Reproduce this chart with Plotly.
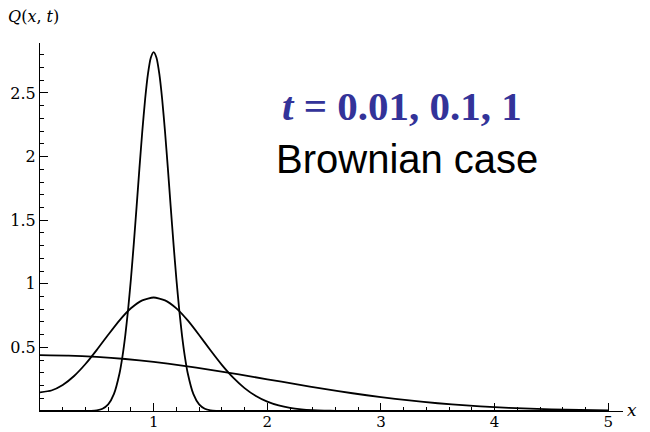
import plotly.graph_objects as go

# t = 0.01 curve
x_t001 = [0, 0.2, 0.3, 0.35, 0.4, 0.45, 0.5, 0.55, 0.6, 0.65, 0.7, 0.725, 0.75, 0.775, 0.8,
          0.825, 0.85, 0.875, 0.9, 0.925, 0.95, 0.975, 1.0, 1.025, 1.05, 1.075, 1.1, 1.125,
          1.15, 1.175, 1.2, 1.225, 1.25, 1.275, 1.3, 1.35, 1.4, 1.45, 1.5, 1.55, 1.6, 1.65,
          1.7, 1.8, 2.0, 3.0, 4.0, 5.0]
q_t001 = [0, 0, 0, 0.00007, 0.00035, 0.0015, 0.0054, 0.0179, 0.0517, 0.132, 0.297, 0.426,
          0.591, 0.796, 1.038, 1.312, 1.607, 1.909, 2.197, 2.451, 2.650, 2.777, 2.821, 2.777,
          2.650, 2.451, 2.197, 1.909, 1.607, 1.312, 1.038, 0.796, 0.591, 0.426, 0.297, 0.132,
          0.0517, 0.0179, 0.0054, 0.0015, 0.00035, 0.00007, 0, 0, 0, 0, 0, 0]

# t = 0.1 curve
x_t01 = [0, 0.1, 0.2, 0.3, 0.4, 0.5, 0.6, 0.7, 0.8, 0.9, 1.0, 1.1, 1.2, 1.3, 1.4, 1.5, 1.6,
         1.7, 1.8, 1.9, 2.0, 2.1, 2.2, 2.3, 2.4, 2.5, 2.6, 2.8, 3.0, 4.0, 5.0]
q_t01 = [0.1465, 0.1611, 0.2045, 0.2751, 0.3693, 0.4808, 0.5995, 0.7130, 0.8075, 0.8702,
         0.8921, 0.8701, 0.8072, 0.7123, 0.5980, 0.4775, 0.3627, 0.2621, 0.1801, 0.1177,
         0.0732, 0.0433, 0.0244, 0.0131, 0.0066, 0.0032, 0.0015, 0.0003, 0, 0, 0]

# t = 1 curve
x_t1 = [0, 0.25, 0.5, 0.75, 1.0, 1.25, 1.5, 1.75, 2.0, 2.25, 2.5, 2.75, 3.0, 3.25, 3.5,
        3.75, 4.0, 4.25, 4.5, 4.75, 5.0]
q_t1 = [0.4394, 0.4360, 0.4257, 0.4089, 0.3859, 0.3573, 0.3241, 0.2877, 0.2494, 0.2110,
        0.1739, 0.1396, 0.1089, 0.0827, 0.0609, 0.0436, 0.0303, 0.0204, 0.0133, 0.0085,
        0.0052]

x_tick_vals = [1, 2, 3, 4, 5]
x_tick_text = ["1", "2", "3", "4", "5"]
y_tick_vals = [0.5, 1, 1.5, 2, 2.5]
y_tick_text = ["0.5", "1", "1.5", "2", "2.5"]

fig = go.Figure()
for xs, ys in [(x_t001, q_t001), (x_t01, q_t01), (x_t1, q_t1)]:
    fig.add_trace(go.Scatter(x=xs, y=ys, mode="lines",
                             line=dict(color="black", width=1.8, shape="spline", smoothing=0.6),
                             showlegend=False, hoverinfo="skip"))

tick_font = dict(family="DejaVu Serif", size=16, color="black")
fig.update_xaxes(range=[0, 5.13], showline=True, linecolor="black", linewidth=1,
                 showgrid=False, zeroline=False, tickmode="array", automargin=False,
                 tickvals=x_tick_vals, ticktext=x_tick_text,
                 ticks="inside", ticklen=8, tickcolor="black", tickwidth=1,
                 tickfont=dict(family="DejaVu Serif", size=15, color="black"),
                 ticklabelstandoff=-3,
                 minor=dict(ticks="inside", ticklen=4, tickcolor="black", tickmode="linear",
                            tick0=0, dtick=0.2, showgrid=False))
fig.update_yaxes(range=[0, 2.893], showline=True, linecolor="black", linewidth=1,
                 showgrid=False, zeroline=False, tickmode="array", automargin=False,
                 tickvals=y_tick_vals, ticktext=y_tick_text,
                 ticks="inside", ticklen=8, tickcolor="black", tickwidth=1,
                 tickfont=tick_font,
                 minor=dict(ticks="inside", ticklen=4, tickcolor="black", tickmode="linear",
                            tick0=0, dtick=0.1, showgrid=False))

fig.add_annotation(xref="paper", yref="paper", x=-0.012, y=1.073,
                   xanchor="center", yanchor="middle",
                   text="<i>Q</i>(<i>x</i>, <i>t</i>)", showarrow=False,
                   font=dict(family="DejaVu Serif", size=16, color="black"))
fig.add_annotation(xref="paper", yref="paper", x=1.015, y=0.003,
                   text="<i>x</i>", showarrow=False, xanchor="center", yanchor="middle",
                   font=dict(family="DejaVu Serif", size=17, color="black"))
fig.add_annotation(xref="paper", yref="paper", x=0.621, y=0.829,
                   xanchor="center", yanchor="middle",
                   text="<b><i>t</i> = 0.01, 0.1, 1</b>", showarrow=False,
                   font=dict(family="Liberation Serif", size=41, color="#333399"))
fig.add_annotation(xref="paper", yref="paper", x=0.630, y=0.684,
                   xanchor="center", yanchor="middle",
                   text="Brownian case", showarrow=False,
                   font=dict(family="Liberation Sans", size=40, color="black"))

# page body adds an 8px offset, so margins are reduced accordingly
fig.update_layout(width=650, height=432, margin=dict(l=32, r=35, t=35, b=29),
                  paper_bgcolor="white", plot_bgcolor="white")

fig.write_html("out.html")
